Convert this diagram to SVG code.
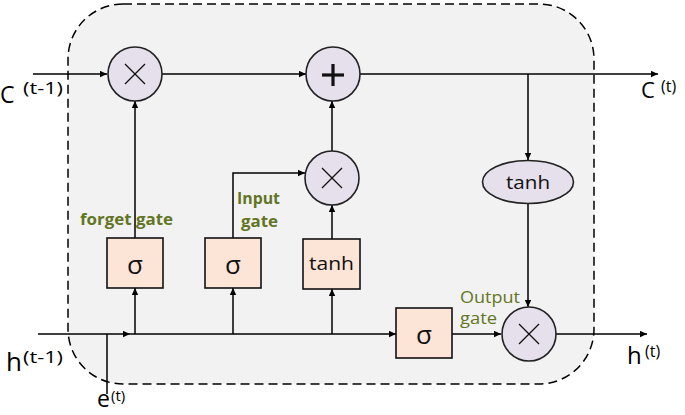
<svg xmlns="http://www.w3.org/2000/svg" width="685" height="415" viewBox="0 0 685 415">
  <defs>
    <marker id="arr" markerUnits="userSpaceOnUse" markerWidth="8" markerHeight="7" refX="7" refY="3.2" orient="auto">
      <path d="M0,0 L7,3.2 L0,6.4 z" fill="#000"/>
    </marker>
  </defs>
  <style>
    .op { fill: #e6e0ec; stroke: #222; stroke-width: 1.6; }
    .box { fill: #fce4d6; stroke: #111; stroke-width: 1.6; }
    .x { stroke: #111; stroke-width: 1.3; }
    .c { fill: none; stroke: #000; stroke-width: 1.5; }
    .ca { fill: none; stroke: #000; stroke-width: 1.5; marker-end: url(#arr); }
    .sym { font-family: "Open Sans", "DejaVu Sans", sans-serif; fill: #111; text-anchor: middle; }
    .lbl { font-family: "Open Sans", "Liberation Sans", sans-serif; fill: #000; }
    .gate { font-family: "Open Sans", "Liberation Sans", sans-serif; fill: #627524; }
  </style>
  <rect width="685" height="415" fill="#fff"/>
  <rect id="cell" x="68" y="4" width="526" height="380" rx="55" ry="55" fill="#f2f2f2" stroke="#000" stroke-width="1.5" stroke-dasharray="9,5"/>

  <g id="connectors">
    <line class="ca" x1="33" y1="74" x2="107" y2="74"/>
    <line class="ca" x1="162" y1="74" x2="306" y2="74"/>
    <line class="ca" x1="360" y1="74" x2="658" y2="74"/>
    <line class="ca" x1="528" y1="74" x2="528" y2="160"/>
    <line class="ca" x1="528" y1="204" x2="528" y2="307"/>
    <line class="ca" x1="556" y1="334" x2="647" y2="334"/>
    <line class="ca" x1="38" y1="334" x2="130" y2="334"/>
    <line class="ca" x1="130" y1="334" x2="396" y2="334"/>
    <line class="c" x1="107" y1="334" x2="107" y2="394"/>
    <line class="ca" x1="452" y1="334" x2="501" y2="334"/>
    <line class="ca" x1="135" y1="334" x2="135" y2="288"/>
    <line class="ca" x1="135" y1="238" x2="135" y2="101"/>
    <line class="ca" x1="233" y1="334" x2="233" y2="288"/>
    <polyline class="ca" points="233,238 233,173 305,173"/>
    <line class="ca" x1="332" y1="334" x2="332" y2="289"/>
    <line class="ca" x1="332" y1="239" x2="332" y2="205"/>
    <line class="ca" x1="332" y1="151" x2="332" y2="101"/>
  </g>

  <g id="forget-mult">
    <circle class="op" cx="135" cy="74" r="27"/>
    <line class="x" x1="125" y1="64" x2="145" y2="84"/>
    <line class="x" x1="145" y1="64" x2="125" y2="84"/>
  </g>
  <g id="cell-add">
    <circle class="op" cx="333" cy="74" r="27"/>
    <line stroke="#111" stroke-width="3.2" x1="322" y1="75" x2="344" y2="75"/>
    <line stroke="#111" stroke-width="3.2" x1="333" y1="64" x2="333" y2="86"/>
  </g>
  <g id="input-mult">
    <circle class="op" cx="332" cy="178" r="27"/>
    <line class="x" x1="322" y1="168" x2="342" y2="188"/>
    <line class="x" x1="342" y1="168" x2="322" y2="188"/>
  </g>
  <g id="output-mult">
    <circle class="op" cx="529" cy="334" r="27"/>
    <line class="x" x1="519" y1="324" x2="539" y2="344"/>
    <line class="x" x1="539" y1="324" x2="519" y2="344"/>
  </g>
  <g id="tanh-cell">
    <ellipse class="op" cx="528" cy="182" rx="45.5" ry="21.5"/>
    <text class="sym" x="528" y="189" font-size="19" textLength="44" lengthAdjust="spacingAndGlyphs">tanh</text>
  </g>
  <g id="forget-sigma">
    <rect class="box" x="107" y="238" width="56" height="50"/>
    <text class="sym" x="135" y="274" font-size="26">σ</text>
  </g>
  <g id="input-sigma">
    <rect class="box" x="205" y="238" width="56" height="50"/>
    <text class="sym" x="233" y="274" font-size="26">σ</text>
  </g>
  <g id="input-tanh">
    <rect class="box" x="303" y="239" width="57" height="50"/>
    <text class="sym" x="331.5" y="270" font-size="19" textLength="45" lengthAdjust="spacingAndGlyphs">tanh</text>
  </g>
  <g id="output-sigma">
    <rect class="box" x="396" y="308" width="56" height="50"/>
    <text class="sym" x="424" y="344" font-size="26">σ</text>
  </g>

  <g id="gate-labels">
    <text class="gate" x="80" y="225" font-size="16" font-weight="bold" textLength="93" lengthAdjust="spacingAndGlyphs">forget gate</text>
    <text class="gate" x="237" y="204" font-size="16" font-weight="bold" textLength="43" lengthAdjust="spacingAndGlyphs">Input</text>
    <text class="gate" x="241" y="227" font-size="16" font-weight="bold" textLength="37" lengthAdjust="spacingAndGlyphs">gate</text>
    <text class="gate" x="460" y="303" font-size="16" textLength="60" lengthAdjust="spacingAndGlyphs">Output</text>
    <text class="gate" x="460" y="324" font-size="16" textLength="37" lengthAdjust="spacingAndGlyphs">gate</text>
  </g>

  <g id="io-labels">
    <text class="lbl" x="0" y="103" font-size="23">C</text>
    <text class="lbl" x="23" y="94" font-size="16" textLength="40" lengthAdjust="spacingAndGlyphs">(t-1)</text>
    <text class="lbl" x="641" y="98" font-size="22">C</text>
    <text class="lbl" x="661" y="92" font-size="16">(t)</text>
    <text class="lbl" x="6" y="371" font-size="26">h</text>
    <text class="lbl" x="23" y="363" font-size="16" textLength="40" lengthAdjust="spacingAndGlyphs">(t-1)</text>
    <text class="lbl" x="97" y="407" font-size="23">e</text>
    <text class="lbl" x="111" y="401" font-size="15">(t)</text>
    <text class="lbl" x="627" y="364" font-size="24">h</text>
    <text class="lbl" x="645" y="357" font-size="16">(t)</text>
  </g>
</svg>
